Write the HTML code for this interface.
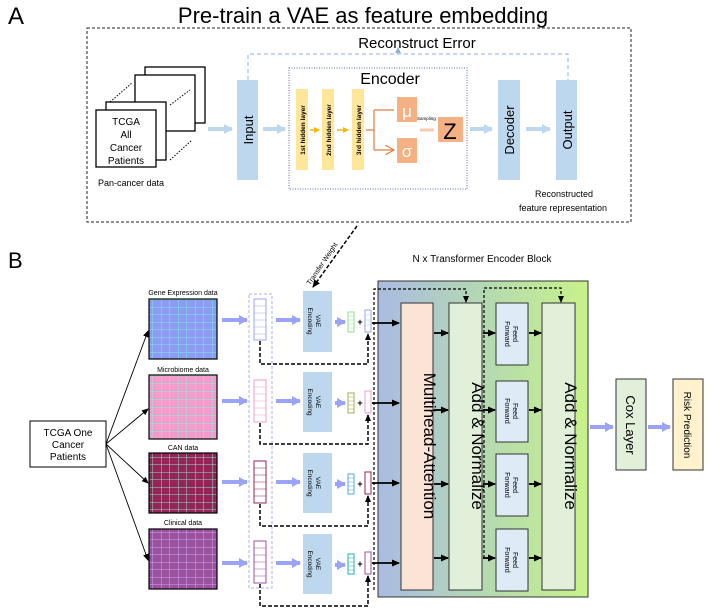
<!DOCTYPE html>
<html><head><meta charset="utf-8"><style>
body{margin:0;background:#fff}
svg{display:block;font-family:"Liberation Sans",sans-serif}
</style></head><body>
<svg width="720" height="613" viewBox="0 0 720 613" xmlns="http://www.w3.org/2000/svg">
<defs>
<marker id="ah" markerUnits="userSpaceOnUse" markerWidth="8" markerHeight="8" refX="7" refY="4" orient="auto"><path d="M0,0.5 L8,4 L0,7.5 z" fill="#000"/></marker>
<marker id="ahs" markerUnits="userSpaceOnUse" markerWidth="7" markerHeight="7" refX="6" refY="3.5" orient="auto"><path d="M0,0.5 L7,3.5 L0,6.5 z" fill="#000"/></marker>
<marker id="ahb" markerUnits="userSpaceOnUse" markerWidth="9" markerHeight="10" refX="8" refY="5" orient="auto"><path d="M0,0 L9,5 L0,10 z" fill="#9aa3f5"/></marker>
<marker id="ahl" markerUnits="userSpaceOnUse" markerWidth="9" markerHeight="10" refX="8" refY="5" orient="auto"><path d="M0,0 L9,5 L0,10 z" fill="#bdd7ee"/></marker>
<marker id="ahy" markerUnits="userSpaceOnUse" markerWidth="6" markerHeight="6" refX="5" refY="3" orient="auto"><path d="M0,0 L6,3 L0,6 z" fill="#f5b800"/></marker>
<marker id="aho" markerUnits="userSpaceOnUse" markerWidth="10" markerHeight="10" refX="9" refY="5" orient="auto"><path d="M0,0 L9,5 L0,10" fill="none" stroke="#d97f45" stroke-width="1.2"/></marker>
<marker id="ahd" markerUnits="userSpaceOnUse" markerWidth="6" markerHeight="6" refX="3" refY="3" orient="auto"><path d="M0,0 L6,3 L0,6 z" fill="#8fb0d8"/></marker>
<pattern id="pg" width="8.5" height="7.5" patternUnits="userSpaceOnUse"><rect width="8.5" height="7.5" fill="#8b9cf2"/><path d="M8.5,0V7.5M0,7.5H8.5" stroke="#7fe6e6" stroke-width="1"/></pattern>
<pattern id="pm" width="8.5" height="8" patternUnits="userSpaceOnUse"><rect width="8.5" height="8" fill="#f19ccb"/><path d="M8.5,0V8M0,8H8.5" stroke="#9fe0e0" stroke-width="1.2"/></pattern>
<pattern id="pc" width="8.5" height="7.5" patternUnits="userSpaceOnUse"><rect width="8.5" height="7.5" fill="#952456"/><path d="M8.5,0V7.5M0,7.5H8.5" stroke="#8ee0c8" stroke-width="1"/></pattern>
<pattern id="pl" width="8.5" height="7.5" patternUnits="userSpaceOnUse"><rect width="8.5" height="7.5" fill="#9b519e"/><path d="M8.5,0V7.5M0,7.5H8.5" stroke="#c9a6f0" stroke-width="1"/></pattern>
<linearGradient id="tg" x1="0" x2="1" y1="0" y2="0"><stop offset="0" stop-color="#a9bbe2"/><stop offset="0.5" stop-color="#b4d9b2"/><stop offset="1" stop-color="#c8f28a"/></linearGradient>
</defs>

<!-- Part A -->
<text x="8" y="24" font-size="24">A</text>
<text x="363" y="23" font-size="22" text-anchor="middle">Pre-train a VAE as feature embedding</text>
<rect x="87" y="28" width="544" height="194" fill="none" stroke="#222" stroke-width="1" stroke-dasharray="3,2"/>
<text x="417" y="48" font-size="15" text-anchor="middle">Reconstruct Error</text>
<path d="M248,80 V54 H568 V80" fill="none" stroke="#8fb0d8" stroke-dasharray="4,3"/>
<path d="M398,54 V50" stroke="#8fb0d8" marker-end="url(#ahd)"/>

<rect x="145" y="67" width="60" height="56" fill="#fff" stroke="#000" stroke-width="1.3"/>
<rect x="135" y="75" width="60" height="56" fill="#fff" stroke="#000" stroke-width="1.3"/>
<rect x="106" y="102" width="60" height="58" fill="#fff" stroke="#000" stroke-width="1.3"/>
<path d="M110,102 L132,83 M170,105 L190,90 M170,160 L192,140" stroke="#000" stroke-dasharray="1.5,1.5"/>
<rect x="96" y="110" width="60" height="57" fill="#fff" stroke="#000" stroke-width="1.3"/>
<text font-size="10" text-anchor="middle"><tspan x="126" y="125">TCGA</tspan><tspan x="126" y="138">All</tspan><tspan x="126" y="151">Cancer</tspan><tspan x="126" y="164">Patients</tspan></text>
<text x="98" y="186" font-size="9">Pan-cancer data</text>
<line x1="208" y1="129" x2="232" y2="129" stroke="#bdd7ee" stroke-width="4" marker-end="url(#ahl)"/>
<rect x="237" y="80" width="21" height="100" fill="#bdd7ee"/>
<text transform="translate(253,130) rotate(-90)" font-size="13" text-anchor="middle">Input</text>
<line x1="263" y1="129" x2="285" y2="129" stroke="#bdd7ee" stroke-width="4" marker-end="url(#ahl)"/>

<rect x="289" y="68" width="178" height="121" fill="none" stroke="#5a6fb0" stroke-dasharray="1,1.5"/>
<text x="390" y="84" font-size="16" text-anchor="middle">Encoder</text>
<rect x="296" y="89" width="12" height="81" fill="#ffe699"/>
<rect x="322" y="89" width="12" height="81" fill="#ffe699"/>
<rect x="352" y="89" width="12" height="81" fill="#ffe699"/>
<g font-size="6.5" font-weight="bold" text-anchor="middle">
<text transform="translate(305,130) rotate(-90)">1st hidden layer</text>
<text transform="translate(331,130) rotate(-90)">2nd hidden layer</text>
<text transform="translate(361,130) rotate(-90)">3rd hidden layer</text>
</g>
<line x1="310" y1="130" x2="319" y2="130" stroke="#f5b800" stroke-width="1.5" marker-end="url(#ahy)"/>
<line x1="337" y1="130" x2="348" y2="130" stroke="#f5b800" stroke-width="1.5" marker-end="url(#ahy)"/>
<path d="M366,130 H374 M374,110 V150" fill="none" stroke="#d97f45" stroke-width="1.2"/>
<path d="M374,110 H394 M374,150 H394" stroke="#d97f45" stroke-width="1.2" marker-end="url(#aho)"/>
<rect x="397" y="97" width="20" height="25" fill="#f4b183"/>
<text x="407" y="117" font-size="17" fill="#fff" text-anchor="middle">μ</text>
<rect x="397" y="138" width="20" height="25" fill="#f4b183"/>
<text x="407" y="157" font-size="17" fill="#fff" text-anchor="middle">σ</text>
<text x="417" y="120" font-size="4.5">Sampling</text>
<line x1="420" y1="130" x2="434" y2="130" stroke="#f8cbad" stroke-width="3"/>
<rect x="438" y="117" width="25" height="25" fill="#f4b183"/>
<text x="450" y="139" font-size="22" text-anchor="middle">Z</text>
<line x1="470" y1="129" x2="492" y2="129" stroke="#bdd7ee" stroke-width="4" marker-end="url(#ahl)"/>
<rect x="498" y="80" width="22" height="100" fill="#bdd7ee"/>
<text transform="translate(514,130) rotate(-90)" font-size="13" text-anchor="middle">Decoder</text>
<line x1="526" y1="129" x2="550" y2="129" stroke="#bdd7ee" stroke-width="4" marker-end="url(#ahl)"/>
<rect x="556" y="80" width="21" height="100" fill="#bdd7ee"/>
<text transform="translate(572,130) rotate(-90)" font-size="13" text-anchor="middle">Output</text>
<text font-size="9" text-anchor="middle"><tspan x="564" y="197">Reconstructed</tspan><tspan x="563" y="211">feature representation</tspan></text>

<!-- Part B -->
<text x="8" y="268" font-size="22">B</text>
<path d="M357,226 L313,287" stroke="#000" stroke-width="1.5" stroke-dasharray="4,2" marker-end="url(#ah)"/>
<text transform="translate(324,265) rotate(-56)" font-size="7" text-anchor="middle">Transfer Weight</text>
<text x="482" y="262" font-size="10" text-anchor="middle">N x Transformer Encoder Block</text>

<rect x="30" y="421" width="76" height="46" fill="#fff" stroke="#000"/>
<text font-size="10" text-anchor="middle"><tspan x="68" y="436">TCGA One</tspan><tspan x="68" y="448">Cancer</tspan><tspan x="68" y="460">Patients</tspan></text>
<g stroke="#000" stroke-width="0.9" marker-end="url(#ahs)">
<line x1="106" y1="444" x2="148" y2="331"/>
<line x1="106" y1="444" x2="148" y2="409"/>
<line x1="106" y1="444" x2="148" y2="483"/>
<line x1="106" y1="444" x2="148" y2="560"/>
</g>
<g font-size="7" text-anchor="middle">
<text x="183" y="295">Gene Expression data</text>
<text x="183" y="372">Microbiome data</text>
<text x="183" y="450">CAN data</text>
<text x="183" y="525">Clinical data</text>
</g>
<rect x="149" y="299" width="68" height="60" fill="url(#pg)" stroke="#000" stroke-width="1.2"/>
<rect x="149" y="375" width="68" height="64" fill="url(#pm)" stroke="#000" stroke-width="1.2"/>
<rect x="149" y="453" width="68" height="60" fill="url(#pc)" stroke="#000" stroke-width="1.2"/>
<rect x="149" y="529" width="68" height="60" fill="url(#pl)" stroke="#000" stroke-width="1.2"/>

<rect x="249" y="294" width="23" height="294" fill="none" stroke="#aab0ee" stroke-dasharray="3,2"/>

<g stroke="#9aa3f5" stroke-width="4" marker-end="url(#ahb)">
<line x1="222" y1="320" x2="247" y2="320"/><line x1="276" y1="320" x2="300" y2="320"/><line x1="335" y1="322" x2="345" y2="322"/>
<line x1="222" y1="401" x2="247" y2="401"/><line x1="276" y1="401" x2="300" y2="401"/><line x1="335" y1="403" x2="345" y2="403"/>
<line x1="222" y1="482" x2="247" y2="482"/><line x1="276" y1="482" x2="300" y2="482"/><line x1="335" y1="484" x2="345" y2="484"/>
<line x1="222" y1="563" x2="247" y2="563"/><line x1="276" y1="563" x2="300" y2="563"/><line x1="335" y1="565" x2="345" y2="565"/>
</g>
<g fill="#fff" stroke-width="1">
<rect x="254" y="299" width="12" height="41" stroke="#9aa3f5"/>
<rect x="254" y="380" width="12" height="42" stroke="#f19ccb"/>
<rect x="254" y="461" width="12" height="42" stroke="#952456"/>
<rect x="254" y="541" width="12" height="42" stroke="#9b519e"/>
</g>
<g stroke-width="0.6">
<path d="M254,306H266M254,313H266M254,320H266M254,327H266M254,334H266" stroke="#9aa3f5"/>
<path d="M254,387H266M254,394H266M254,401H266M254,408H266M254,415H266" stroke="#f19ccb"/>
<path d="M254,468H266M254,475H266M254,482H266M254,489H266M254,496H266" stroke="#952456"/>
<path d="M254,548H266M254,555H266M254,562H266M254,569H266M254,576H266" stroke="#9b519e"/>
</g>
<g fill="#bdd7ee">
<rect x="303" y="291" width="29" height="61"/><rect x="303" y="372" width="29" height="60"/>
<rect x="303" y="453" width="29" height="60"/><rect x="303" y="534" width="29" height="60"/>
</g>
<g font-size="6.5" text-anchor="middle">
<text transform="translate(316,321) rotate(90)"><tspan x="0" y="0">VAE</tspan><tspan x="0" y="8">Encoding</tspan></text>
<text transform="translate(316,402) rotate(90)"><tspan x="0" y="0">VAE</tspan><tspan x="0" y="8">Encoding</tspan></text>
<text transform="translate(316,483) rotate(90)"><tspan x="0" y="0">VAE</tspan><tspan x="0" y="8">Encoding</tspan></text>
<text transform="translate(316,564) rotate(90)"><tspan x="0" y="0">VAE</tspan><tspan x="0" y="8">Encoding</tspan></text>
</g>
<g fill="#fff" stroke-width="1">
<rect x="348" y="312" width="6" height="20" stroke="#90e090"/><rect x="365" y="310" width="6" height="22" stroke="#9aa3f5"/>
<rect x="348" y="393" width="6" height="20" stroke="#a0b050"/><rect x="365" y="391" width="6" height="22" stroke="#f19ccb"/>
<rect x="348" y="474" width="6" height="20" stroke="#50a8d8"/><rect x="365" y="472" width="6" height="22" stroke="#952456"/>
<rect x="348" y="554" width="6" height="20" stroke="#20b0b0"/><rect x="365" y="552" width="6" height="22" stroke="#9b519e"/>
</g>
<g stroke-width="0.5">
<path d="M348,316H354M348,320H354M348,324H354M348,328H354 M365,315H371M365,320H371M365,325H371" stroke="#90e090"/>
<path d="M348,397H354M348,401H354M348,405H354M348,409H354" stroke="#a0b050"/>
<path d="M348,478H354M348,482H354M348,486H354M348,490H354" stroke="#50a8d8"/>
<path d="M348,558H354M348,562H354M348,566H354M348,570H354" stroke="#20b0b0"/>
</g>
<g font-size="9" font-weight="bold" text-anchor="middle">
<text x="360" y="325">+</text><text x="360" y="406">+</text><text x="360" y="487">+</text><text x="360" y="567">+</text>
</g>
<g fill="none" stroke="#000" stroke-width="1.5" stroke-dasharray="4,2">
<path d="M260,341 V364 H368 V334" marker-end="url(#ahs)"/>
<path d="M260,423 V444 H368 V415" marker-end="url(#ahs)"/>
<path d="M260,504 V526 H368 V496" marker-end="url(#ahs)"/>
<path d="M260,584 V606 H368 V576" marker-end="url(#ahs)"/>
</g>

<rect x="378" y="281" width="210" height="316" fill="url(#tg)" stroke="#333" stroke-width="1"/>
<rect x="401" y="303" width="32" height="287" fill="#fbe3d5" stroke="#333"/>
<text transform="translate(424,446) rotate(90)" font-size="17" text-anchor="middle">Multihead-Attention</text>
<rect x="449" y="303" width="33" height="287" fill="#e2efd9" stroke="#333"/>
<text transform="translate(472,446) rotate(90)" font-size="17" text-anchor="middle">Add &amp; Normalize</text>
<rect x="542" y="303" width="33" height="287" fill="#e2efd9" stroke="#333"/>
<text transform="translate(565,446) rotate(90)" font-size="17" text-anchor="middle">Add &amp; Normalize</text>
<g fill="#deebf7" stroke="#333">
<rect x="496" y="303" width="32" height="62"/><rect x="496" y="381" width="32" height="61"/>
<rect x="496" y="454" width="32" height="62"/><rect x="496" y="529" width="32" height="62"/>
</g>
<g font-size="7" text-anchor="middle">
<text transform="translate(512,334) rotate(90)"><tspan x="0" y="-1">Feed</tspan><tspan x="0" y="7">Forward</tspan></text>
<text transform="translate(512,411) rotate(90)"><tspan x="0" y="-1">Feed</tspan><tspan x="0" y="7">Forward</tspan></text>
<text transform="translate(512,485) rotate(90)"><tspan x="0" y="-1">Feed</tspan><tspan x="0" y="7">Forward</tspan></text>
<text transform="translate(512,560) rotate(90)"><tspan x="0" y="-1">Feed</tspan><tspan x="0" y="7">Forward</tspan></text>
</g>
<g fill="none" stroke="#000" stroke-width="1.2" stroke-dasharray="3,2">
<path d="M374,590 V289 H466 V302" marker-end="url(#ahs)"/>
<path d="M484,558 V288 H561 V302" marker-end="url(#ahs)"/>
</g>
<g stroke="#000" stroke-width="1.8" marker-end="url(#ah)">
<line x1="372" y1="323" x2="399" y2="323"/><line x1="372" y1="403" x2="399" y2="403"/>
<line x1="372" y1="483" x2="399" y2="483"/><line x1="372" y1="563" x2="399" y2="563"/>
<line x1="434" y1="333" x2="448" y2="333"/><line x1="434" y1="410" x2="448" y2="410"/>
<line x1="434" y1="484" x2="448" y2="484"/><line x1="434" y1="558" x2="448" y2="558"/>
<line x1="483" y1="333" x2="495" y2="333"/><line x1="483" y1="410" x2="495" y2="410"/>
<line x1="483" y1="484" x2="495" y2="484"/><line x1="483" y1="558" x2="495" y2="558"/>
<line x1="529" y1="333" x2="541" y2="333"/><line x1="529" y1="410" x2="541" y2="410"/>
<line x1="529" y1="484" x2="541" y2="484"/><line x1="529" y1="558" x2="541" y2="558"/>
</g>
<line x1="590" y1="427" x2="613" y2="427" stroke="#9aa3f5" stroke-width="4" marker-end="url(#ahb)"/>
<rect x="616" y="379" width="30" height="91" fill="#e2efd9" stroke="#333"/>
<text transform="translate(626,425) rotate(90)" font-size="13" text-anchor="middle">Cox Layer</text>
<line x1="648" y1="427" x2="670" y2="427" stroke="#9aa3f5" stroke-width="4" marker-end="url(#ahb)"/>
<rect x="673" y="379" width="30" height="91" fill="#fff2cc" stroke="#333"/>
<text transform="translate(684,425) rotate(90)" font-size="10" text-anchor="middle">Risk Prediction</text>
</svg>
</body></html>
